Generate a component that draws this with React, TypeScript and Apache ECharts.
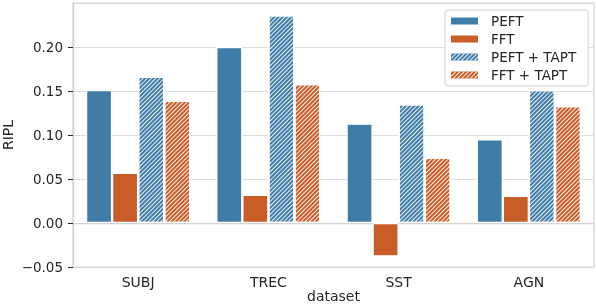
import React, { useEffect, useRef } from "react";
import * as echarts from "echarts";

const categories = ["SUBJ", "TREC", "SST", "AGN"];
const seriesNames = ["PEFT", "FFT", "PEFT + TAPT", "FFT + TAPT"];
const peft = [0.151, 0.2, 0.113, 0.095];
const fft = [0.057, 0.032, -0.038, 0.031];
const peftTapt = [0.166, 0.236, 0.135, 0.151];
const fftTapt = [0.139, 0.158, 0.074, 0.133];
const yTicks = [-0.05, 0, 0.05, 0.1, 0.15, 0.2];

const BLUE = "#407ca8";
const ORANGE = "#c95d28";
const TEXT = "#262626";
const SPINE = "#d4d4d4";

const hatch = {
  symbol: "rect",
  symbolSize: 1,
  dashArrayX: [1, 0],
  dashArrayY: [1, 2],
  rotation: -Math.PI / 4,
  color: "rgba(255,255,255,0.9)",
};

export default function App() {
  const ref = useRef<HTMLDivElement>(null);
  useEffect(() => {
    if (!ref.current) return;
    const chart = echarts.init(ref.current, null, { renderer: "svg" });
    const mk = (name: string, data: number[], color: string, hatched: boolean) => ({
      name,
      type: "bar",
      data,
      barGap: "0%",
      barCategoryGap: "20%",
      itemStyle: {
        color,
        borderColor: "#ffffff",
        borderWidth: 1.2,
        ...(hatched ? { decal: hatch } : {}),
      },
    });
    chart.setOption({
      animation: false,
      textStyle: { fontFamily: "DejaVu Sans" },
      grid: {
        left: 73,
        right: 2,
        top: 3,
        bottom: 37,
        show: true,
        borderColor: SPINE,
        borderWidth: 1.25,
        containLabel: false,
        outerBoundsMode: "none",
      },
      legend: {
        orient: "vertical",
        left: 445,
        top: 10,
        align: "left",
        icon: "rect",
        itemWidth: 27,
        itemHeight: 7,
        itemGap: 4,
        padding: [4, 12, 4, 6],
        borderColor: "#d0d0d0",
        borderWidth: 1,
        borderRadius: 3,
        backgroundColor: "#ffffff",
        itemStyle: { borderWidth: 0 },
        textStyle: { fontSize: 13.5, color: TEXT, padding: [0, 0, 0, 8] },
        data: seriesNames,
      },
      xAxis: {
        type: "category",
        data: categories,
        name: "dataset",
        nameLocation: "middle",
        nameGap: 22,
        nameMoveOverlap: false,
        nameTextStyle: { fontSize: 14, color: TEXT },
        axisLine: { lineStyle: { color: SPINE, width: 1.25 } },
        axisTick: { alignWithLabel: true, length: 4, lineStyle: { color: TEXT } },
        axisLabel: { fontSize: 14, color: TEXT, margin: 8 },
        splitLine: { show: false },
      },
      yAxis: {
        type: "value",
        min: -0.05,
        max: 0.25,
        interval: 0.05,
        name: "RIPL",
        nameLocation: "middle",
        nameGap: 58,
        nameMoveOverlap: false,
        nameRotate: 90,
        nameTextStyle: { fontSize: 14, color: TEXT },
        axisLine: { show: true, lineStyle: { color: SPINE, width: 1.25 } },
        axisTick: { show: true, length: 5, customValues: yTicks, lineStyle: { color: TEXT } },
        axisLabel: {
          fontSize: 13.5,
          color: TEXT,
          margin: 10,
          customValues: yTicks,
          formatter: (v: number) => v.toFixed(2).replace("-", "\u2212"),
        },
        splitLine: { lineStyle: { color: "#dedede", width: 1 } },
      },
      series: [
        mk(seriesNames[0], peft, BLUE, false),
        mk(seriesNames[1], fft, ORANGE, false),
        mk(seriesNames[2], peftTapt, BLUE, true),
        mk(seriesNames[3], fftTapt, ORANGE, true),
      ],
    });
    return () => chart.dispose();
  }, []);
  return (
    <div
      ref={ref}
      style={{ position: "fixed", left: 0, top: 0, width: 596, height: 304 }}
    />
  );
}
